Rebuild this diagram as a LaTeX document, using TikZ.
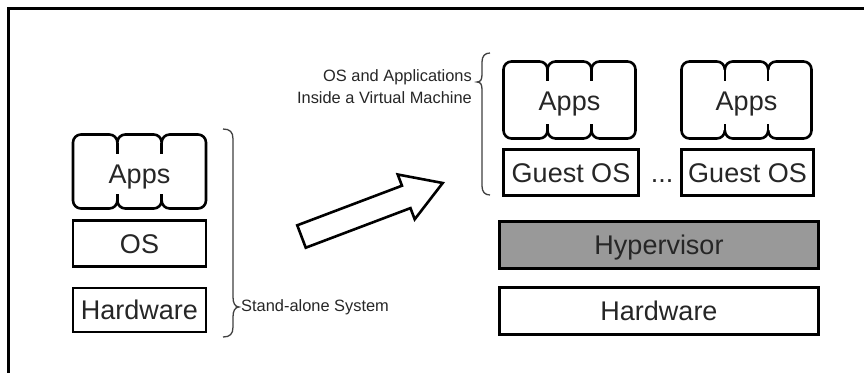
\documentclass[tikz,border=0pt]{standalone}
\usepackage{fontspec}
\setmainfont{Liberation Sans}
\usetikzlibrary{calc}
\begin{document}
\begin{tikzpicture}[x=1pt,y=-1pt,
  thick line/.style={draw=black, line width=2.6pt},
  box/.style={thick line, rectangle, inner sep=0pt, fill=white},
  big/.style={font=\fontsize{27}{30}\selectfont, text=black!85, text height=19pt, text depth=0pt, inner sep=0pt},
  small/.style={font=\fontsize{16.4}{20}\selectfont, text=black!85, inner sep=0pt},
  bracepath/.style={draw=black!75, line width=1.3pt},
  pics/appsbox/.style 2 args={code={
    \pgfmathsetmacro\appW{#1}
    \pgfmathsetmacro\appH{#2}
    \pgfmathsetmacro\jA{#1/3}
    \pgfmathsetmacro\jB{2*#1/3}
    \draw[thick line, fill=white, line join=round]
      (0,8) .. controls (0,3.58) and (3.58,0) .. (8,0)
      -- ({\jA-8},0) .. controls ({\jA-3.58},0) and (\jA,3.58) .. (\jA,8)
      .. controls (\jA,3.58) and ({\jA+3.58},0) .. ({\jA+8},0)
      -- ({\jB-8},0) .. controls ({\jB-3.58},0) and (\jB,3.58) .. (\jB,8)
      .. controls (\jB,3.58) and ({\jB+3.58},0) .. ({\jB+8},0)
      -- ({\appW-8},0) .. controls ({\appW-3.58},0) and (\appW,3.58) .. (\appW,8)
      -- (\appW,{\appH-8}) .. controls (\appW,{\appH-3.58}) and ({\appW-3.58},\appH) .. ({\appW-8},\appH)
      -- ({\jB+8},\appH) .. controls ({\jB+3.58},\appH) and (\jB,{\appH-3.58}) .. (\jB,{\appH-8})
      .. controls (\jB,{\appH-3.58}) and ({\jB-3.58},\appH) .. ({\jB-8},\appH)
      -- ({\jA+8},\appH) .. controls ({\jA+3.58},\appH) and (\jA,{\appH-3.58}) .. (\jA,{\appH-8})
      .. controls (\jA,{\appH-3.58}) and ({\jA-3.58},\appH) .. ({\jA-8},\appH)
      -- (8,\appH) .. controls (3.58,\appH) and (0,{\appH-3.58}) .. (0,{\appH-8})
      -- cycle;
    \draw[thick line] (\jA,8) -- (\jA,19) (\jB,8) -- (\jB,19)
      (\jA,{\appH-8}) -- (\jA,{\appH-15}) (\jB,{\appH-8}) -- (\jB,{\appH-15});
  }}
]
\useasboundingbox (0,0) rectangle (864,372);
\fill[white] (0,0) rectangle (864,372);
% frame
\draw[line width=3pt, line join=miter] (8,376) -- (8,8) -- (868,8);

% left stack
\pic at (73,134.5) {appsbox={133}{74}};
\node[big] (appsL) at (139.5,174) {Apps};
\node[box, big, minimum width=133pt, minimum height=46pt] (osL) at (139.5,243.5) {OS};
\node[box, big, minimum width=133pt, minimum height=44pt] (hwL) at (139.5,310) {Hardware};

% left brace
\draw[bracepath] (223,129) .. controls (230,129) and (233,132) .. (233,139)
  -- (233,297) .. controls (233,303) and (235,307) .. (239,307)
  .. controls (235,307) and (233,311) .. (233,317)
  -- (233,327) .. controls (233,334) and (230,337) .. (223,337);
\node[small, anchor=west] (standalone) at (241,307) {Stand-alone System};

% arrow
\draw[thick line, line join=miter, fill=white]
  (297.25,225.3) -- (401.97,185.7) -- (397.7,174.5) -- (442.7,183)
  -- (414.7,219.3) -- (410.47,208.1) -- (305.75,247.7) -- cycle;

% right brace
\draw[bracepath] (490,53) .. controls (485,53) and (482,56) .. (482,62)
  -- (482,74) .. controls (482,79) and (481,82) .. (477,82)
  .. controls (481,82) and (482,85) .. (482,90)
  -- (482,186) .. controls (482,192) and (485,195) .. (490,195);
\node[small, anchor=east, align=right] (vmlabel) at (472,87) {OS and Applications\\[2pt]Inside a Virtual Machine};

% right stacks
\pic at (503.5,61.5) {appsbox={132}{77}};
\node[big] (appsR1) at (569.5,101) {Apps};
\pic at (681.5,61.5) {appsbox={130}{77}};
\node[big] (appsR2) at (746.5,101) {Apps};
\node[box, big, minimum width=135pt, minimum height=46pt] (gos1) at (571,172.5) {Guest OS};
\node[box, big, minimum width=132pt, minimum height=46pt] (gos2) at (747.5,172.5) {Guest OS};
\node[big, anchor=base, text height=] (dots) at ($(gos1.base)+(91,0)$) {...};
\node[box, big, fill=black!40, minimum width=319pt, minimum height=47pt] (hyp) at (659,245) {Hypervisor};
\node[box, big, minimum width=319pt, minimum height=47pt] (hwR) at (659,311) {Hardware};
\end{tikzpicture}
\end{document}
